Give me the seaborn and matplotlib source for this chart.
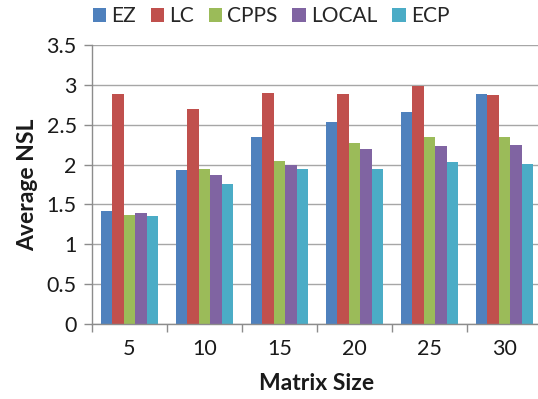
import matplotlib
matplotlib.use("Agg")
import matplotlib.pyplot as plt
from matplotlib.patches import Patch
import seaborn as sns
import pandas as pd

# Average NSL per matrix size for each scheduling method
matrix_sizes = ["5", "10", "15", "20", "25", "30"]
methods = ["EZ", "LC", "CPPS", "LOCAL", "ECP"]
ez = [1.42, 1.93, 2.35, 2.53, 2.66, 2.89]
lc = [2.89, 2.70, 2.90, 2.89, 2.98, 2.87]
cpps = [1.37, 1.94, 2.04, 2.27, 2.35, 2.35]
local = [1.39, 1.87, 1.99, 2.19, 2.23, 2.24]
ecp = [1.36, 1.76, 1.95, 1.94, 2.03, 2.01]
colors = ["#4F81BD", "#C0504D", "#9BBB59", "#8064A2", "#4BACC6"]

series = {"EZ": ez, "LC": lc, "CPPS": cpps, "LOCAL": local, "ECP": ecp}
df = pd.DataFrame(
    [(size, m, series[m][i]) for m in methods for i, size in enumerate(matrix_sizes)],
    columns=["Matrix Size", "Method", "Average NSL"],
)

sns.set_theme(style="white")
plt.rcParams["font.family"] = ["Lato", "DejaVu Sans"]

W, H = 538, 399
fig = plt.figure(figsize=(W / 100, H / 100), dpi=100)
ax = fig.add_axes([92 / W, 1 - 324 / H, 450 / W, 279 / H])

sns.barplot(
    data=df, x="Matrix Size", y="Average NSL", hue="Method",
    order=matrix_sizes, hue_order=methods, palette=colors,
    width=0.76, gap=0, saturation=1, linewidth=0, ax=ax, legend=False,
)

ax.set_xlim(-0.5, len(matrix_sizes) - 0.5)
ax.set_ylim(0, 3.5)
ax.set_yticks([0, 0.5, 1, 1.5, 2, 2.5, 3, 3.5])
ax.set_yticklabels(["0", "0.5", "1", "1.5", "2", "2.5", "3", "3.5"])
ax.yaxis.grid(True, color="#A6A6A6", linewidth=1.0)
ax.set_axisbelow(True)

# category boundary ticks below the axis, labels centred under each group
ax.set_xticks([i - 0.5 for i in range(len(matrix_sizes) + 1)])
ax.set_xticklabels([])
ax.set_xticks(range(len(matrix_sizes)), minor=True)
ax.set_xticklabels(matrix_sizes, minor=True)
ax.tick_params(axis="x", which="major", length=6, width=1, color="#8C8C8C", direction="out")
ax.tick_params(axis="x", which="minor", length=0, pad=11, labelsize=15.5, labelcolor="#1a1a1a")
ax.tick_params(axis="y", length=6, width=1, color="#8C8C8C", direction="out",
               labelsize=15.5, labelcolor="#1a1a1a", pad=5)
ax.xaxis.set_ticks_position("bottom")
ax.yaxis.set_ticks_position("left")

for side in ["top", "right"]:
    ax.spines[side].set_visible(False)
for side in ["left", "bottom"]:
    ax.spines[side].set_color("#8C8C8C")
    ax.spines[side].set_linewidth(1)

ax.set_xlabel("Matrix Size", fontsize=16.5, fontweight="bold", color="#1a1a1a", labelpad=10)
ax.set_ylabel("Average NSL", fontsize=16.5, fontweight="bold", color="#1a1a1a", labelpad=6)

handles = [Patch(facecolor=c, edgecolor="none", label=m) for m, c in zip(methods, colors)]
fig.legend(
    handles=handles, loc="center", bbox_to_anchor=(271 / W, 1 - 16 / H), ncol=5,
    frameon=False, fontsize=15, handlelength=0.65, handleheight=0.65,
    handletextpad=0.25, columnspacing=0.7,
)

fig.savefig("out.png", dpi=100)
